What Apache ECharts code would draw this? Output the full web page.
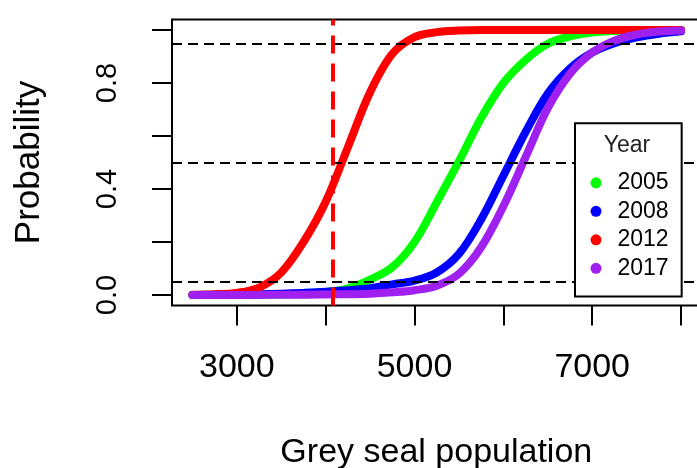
<!DOCTYPE html>
<html><head><meta charset="utf-8">
<script src="https://cdn.jsdelivr.net/npm/echarts@6/dist/echarts.min.js"></script>
<style>html,body{margin:0;padding:0;background:#fff}#c{width:697px;height:468px}</style>
</head><body><div id="c"></div>
<script>
// Grey seal population (x) and probability per survey year
const popX  = [2500,2750,3000,3250,3500,3750,4000,4250,4500,4750,5000,5250,5500,5750,6000,6250,6500,6750,7000,7250,7500,7750,8000];
const p2005 = [0,0,0.001,0.001,0.002,0.005,0.011,0.025,0.058,0.105,0.2,0.35,0.505,0.668,0.8,0.887,0.948,0.976,0.99,0.996,0.998,0.999,1];
const p2008 = [0,0.001,0.002,0.003,0.005,0.008,0.012,0.018,0.026,0.04,0.054,0.085,0.155,0.285,0.45,0.615,0.76,0.855,0.915,0.95,0.972,0.986,0.995];
const p2012 = [0.001,0.003,0.008,0.028,0.085,0.2,0.352,0.558,0.765,0.91,0.973,0.992,0.998,1,1,1,1,1,1,1,1,1,1];
const p2017 = [0,0,0,0,0.001,0.001,0.002,0.003,0.005,0.01,0.018,0.035,0.08,0.18,0.335,0.52,0.705,0.835,0.915,0.96,0.983,0.994,0.998];
const years = ['2005','2008','2012','2017'];
const colors = ['#00FF00','#0000FF','#FF0000','#A020F0'];
const refLevels = [0.05, 0.5, 0.95];
const refPop = 4084;
const xTicks = [3000,4000,5000,6000,7000,8000];
const xLabels = [3000,5000,7000];
const yTicks = [0,0.2,0.4,0.6,0.8,1.0];
const yLabels = [0,0.4,0.8];

const FONT = '"Liberation Sans", Arial, sans-serif';
const seriesVals = [p2005, p2008, p2012, p2017];

const chart = echarts.init(document.getElementById('c'), null, {renderer:'canvas'});
const curveSeries = years.map((y, k) => ({
  name: y, type: 'line', z: 3,
  data: popX.map((x, i) => [x, seriesVals[k][i]]),
  showSymbol: false, smooth: 0.35,
  lineStyle: {width: 8, color: colors[k], cap: 'round', join: 'round'},
  itemStyle: {color: colors[k]},
  emphasis: {disabled: true}
}));
const refSeries = {
  type: 'line', data: [], z: 2, silent: true,
  markLine: {
    silent: true, animation: false, symbol: ['none','none'], label: {show: false},
    data: refLevels.map(v => ({yAxis: v, lineStyle: {color: '#000', width: 2, type: [10, 6]}}))
      .concat([{xAxis: refPop, lineStyle: {color: '#FF0000', width: 4, type: [18, 10]}}])
  }
};
chart.setOption({
  animation: false,
  backgroundColor: '#fff',
  textStyle: {fontFamily: FONT},
  grid: {left: 172, top: 19.4, width: 528.6, height: 286.2, show: true, borderColor: '#000', borderWidth: 2,
         backgroundColor: 'transparent', containLabel: false, outerBoundsMode: 'none'},
  xAxis: {
    type: 'value', min: 2270, max: 8220,
    name: 'Grey seal population', nameLocation: 'middle', nameGap: 130, nameMoveOverlap: false,
    nameTextStyle: {fontSize: 34, color: '#000', fontFamily: FONT},
    axisLine: {show: false, onZero: false},
    axisTick: {show: true, length: 20, lineStyle: {color: '#000', width: 2}, customValues: xTicks},
    axisLabel: {customValues: xLabels, fontSize: 34, color: '#000', margin: 45, fontFamily: FONT,
                formatter: v => String(Math.round(v))},
    splitLine: {show: false}
  },
  yAxis: {
    type: 'value', min: -0.04, max: 1.04,
    name: 'Probability', nameLocation: 'middle', nameGap: 125, nameRotate: 90, nameMoveOverlap: false,
    nameTextStyle: {fontSize: 35, color: '#000', fontFamily: FONT},
    axisLine: {show: false, onZero: false},
    axisTick: {show: true, length: 20, lineStyle: {color: '#000', width: 2}, customValues: yTicks},
    axisLabel: {customValues: yLabels, rotate: 90, fontSize: 29, color: '#000', margin: 50, fontFamily: FONT,
                formatter: v => Number(v).toFixed(1)},
    splitLine: {show: false}
  },
  legend: {
    data: years, orient: 'vertical', left: 575, top: 123.3, icon: 'circle',
    itemWidth: 33, itemHeight: 11, itemGap: 5.5, padding: [48, 13, 16.7, 15.5],
    borderColor: '#000', borderWidth: 2, backgroundColor: '#fff', borderRadius: 0,
    textStyle: {fontSize: 23, color: '#000', fontFamily: FONT},
    selectedMode: false, z: 10
  },
  graphic: [{
    type: 'text', x: 627, y: 145.5, z: 100,
    style: {text: 'Year', fontSize: 23, fontFamily: FONT, fill: '#222', align: 'center', verticalAlign: 'middle'}
  }],
  series: [refSeries].concat(curveSeries)
});
</script></body></html>
